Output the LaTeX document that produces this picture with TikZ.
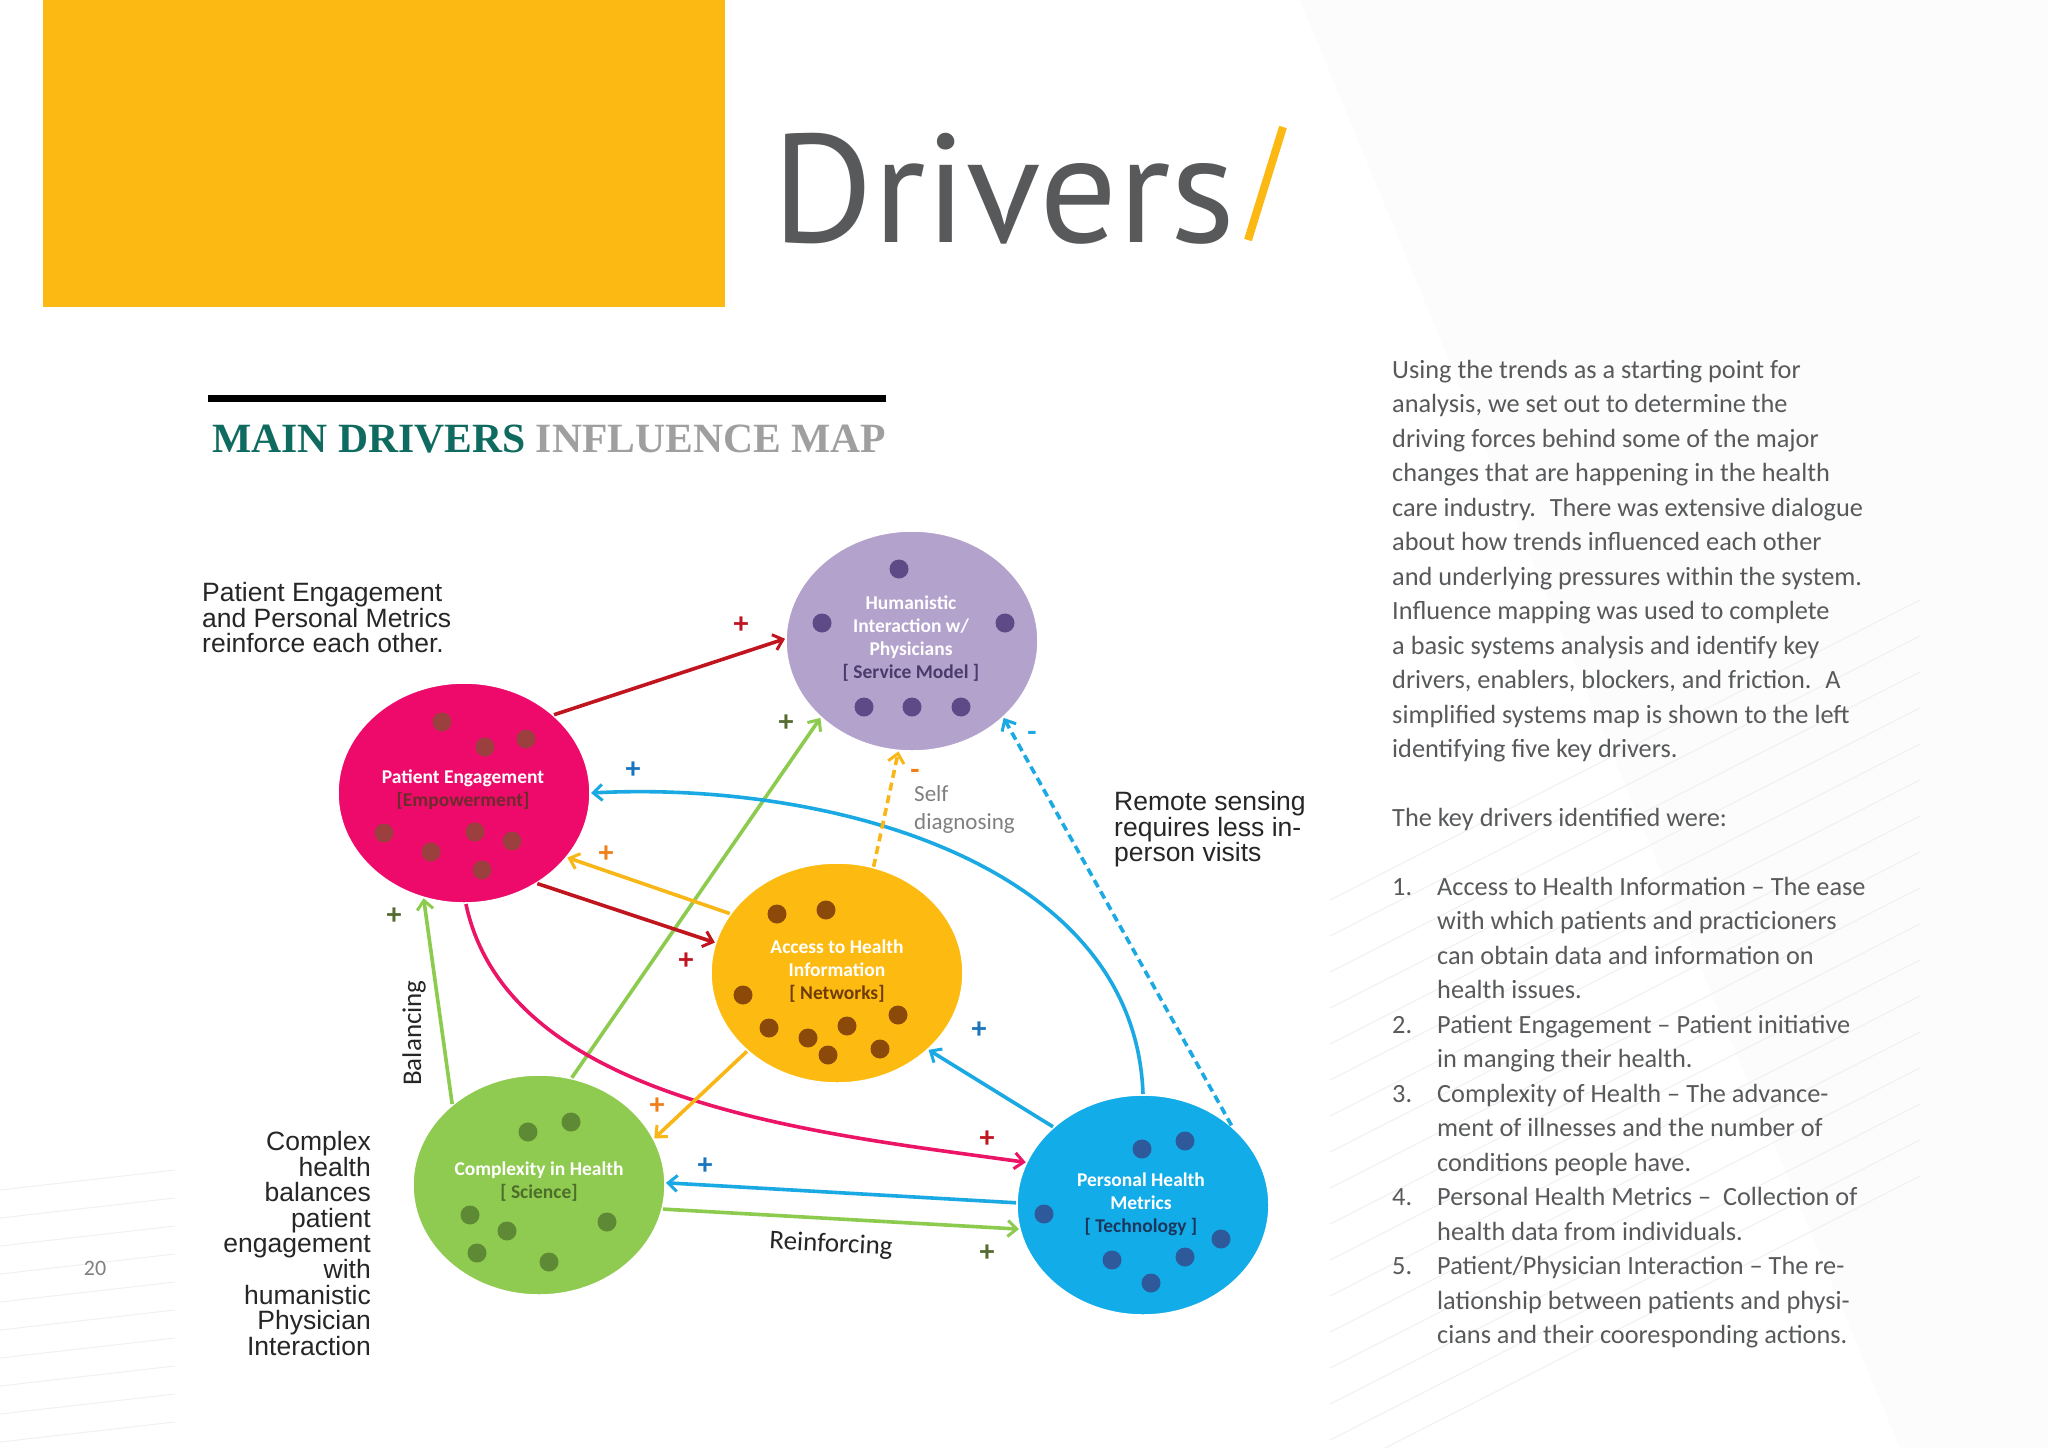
\documentclass[tikz,border=0pt]{standalone}
\usepackage{fontspec}
\setmainfont{Carlito}
\newfontfamily\arialf{Liberation Sans}
\newfontfamily\titlef{Liberation Serif}
\newfontfamily\bigf{PT Sans}
\usetikzlibrary{shapes.geometric,arrows.meta}
\definecolor{ygold}{HTML}{FDB913}
\definecolor{dgray}{HTML}{58595B}
\definecolor{teal1}{HTML}{0F6B5F}
\definecolor{cHI}{HTML}{B3A2CB}
\definecolor{cPE}{HTML}{EE0A6B}
\definecolor{cAC}{HTML}{FDBB12}
\definecolor{cCX}{HTML}{8FCB50}
\definecolor{cPH}{HTML}{12ADE8}
\definecolor{dHI}{HTML}{5E4A87}
\definecolor{dPE}{HTML}{9B3F3F}
\definecolor{dAC}{HTML}{8B4A0A}
\definecolor{dCX}{HTML}{5F8A35}
\definecolor{dPH}{HTML}{2E5A9C}
\definecolor{aRed}{HTML}{C0141E}
\definecolor{aGreen}{HTML}{8CCB4E}
\definecolor{aBlue}{HTML}{1AA9E3}
\definecolor{aYel}{HTML}{F8B716}
\definecolor{aPink}{HTML}{EC1466}
\definecolor{pOr}{HTML}{F07F1A}
\definecolor{pGr}{HTML}{556B2F}
\definecolor{pBl}{HTML}{1A75BC}
\begin{document}
\begin{tikzpicture}[x=1pt,y=-1pt,
  bub/.style={ellipse,minimum width=254pt,minimum height=222pt,draw=white,line width=3.5pt,outer sep=0pt,inner sep=0pt},
  dot/.style={circle,minimum size=19pt,inner sep=0pt},
  ctext/.style={font=\fontsize{19.5}{23}\selectfont\bfseries,text=white,align=center},
  arr/.style={line width=3.6pt,-{Straight Barb[length=9pt,width=16pt,line width=3pt]}},
  sgn/.style={font=\fontsize{30}{30}\selectfont\bfseries,inner sep=0pt},
  lab/.style={font=\arialf\fontsize{26.5}{25.6}\selectfont,text=black!85,inner sep=0pt},
  body/.style={font=\fontsize{26.3}{34.5}\selectfont,text=dgray,inner sep=0pt,anchor=base west}]
\useasboundingbox (0,0) rectangle (2048,1448);
\fill[white] (0,0) rectangle (2048,1448);
% faint background
\fill[gray!2] (1300,0) -- (2048,0) -- (2048,1448) -- (1900,1448) -- cycle;
\foreach \i in {0,...,16} {\draw[gray!12,line width=1pt] (1330,{900+\i*36}) -- (1920,{600+\i*36});}
\foreach \i in {0,...,9} {\draw[gray!12,line width=1pt] (0,{1190+\i*28}) -- (175,{1170+\i*28});}
% header
\fill[ygold] (43,0) rectangle (725,307);
\node[anchor=base west,inner sep=0pt,text=dgray,font=\bigf] (ttl) at (772,242) {\resizebox{463pt}{!}{Drivers}};
\draw[ygold,line width=8pt] (1248,240) -- (1283,127);
\draw[black,line width=7pt] (208,398) -- (886,398);
\node[anchor=base west,inner sep=0pt,font=\titlef\bfseries] (mt) at (212,452) {\resizebox{674pt}{!}{\textcolor{teal1}{MAIN DRIVERS} \textcolor{gray!75}{INFLUENCE MAP}}};
\node[anchor=base,text=gray,font=\fontsize{22}{22}\selectfont,inner sep=0pt] (pg) at (95,1275) {20};
% bubbles
\node[bub,fill=cHI] (HI) at (912,641) {};
\node[bub,fill=cPE] (PE) at (464,793) {};
\node[bub,fill=cAC] (AC) at (837,973) {};
\node[bub,fill=cCX] (CX) at (539,1185) {};
\node[bub,fill=cPH] (PH) at (1143,1205) {};
% dots
\foreach \p in {(899,569),(822,623),(1005,623),(864,707),(912,707),(961,707)} \node[dot,fill=dHI] at \p {};
\foreach \p in {(442,722),(485,747),(526,739),(384,833),(431,852),(475,832),(512,841),(482,870)} \node[dot,fill=dPE] at \p {};
\foreach \p in {(777,914),(826,910),(743,995),(769,1028),(808,1038),(847,1026),(898,1015),(828,1055),(880,1049)} \node[dot,fill=dAC] at \p {};
\foreach \p in {(528,1132),(571,1122),(470,1215),(507,1231),(607,1222),(477,1253),(549,1262)} \node[dot,fill=dCX] at \p {};
\foreach \p in {(1142,1149),(1185,1141),(1044,1214),(1221,1239),(1112,1260),(1185,1257),(1151,1283)} \node[dot,fill=dPH] at \p {};
% bubble texts
\node[ctext] (tHI) at (911,639) {Humanistic\\Interaction w/\\Physicians\\\textcolor{dHI!80!black}{[ Service Model ]}};
\node[ctext] (tPE) at (463,790) {Patient Engagement\\\textcolor{dPE!70!black}{[Empowerment]}};
\node[ctext] (tAC) at (837,971) {Access to Health\\Information\\\textcolor{dAC!80!black}{[ Networks]}};
\node[ctext] (tCX) at (539,1182) {Complexity in Health\\\textcolor{dCX!80!black}{[ Science]}};
\node[ctext] (tPH) at (1141,1204) {Personal Health\\Metrics\\\textcolor{dPH!60!black}{[ Technology ]}};
% connectors
\draw[arr,aRed] (PE.41.4) -- (HI.179.6);
\draw[arr,aGreen] (CX.73.4) -- (HI.220.9);
\draw[arr,aBlue] (PH.90.5) to[out=92,in=3,looseness=0.95] (PE.0.9);
\draw[arr,aYel] (AC.151.4) -- (PE.-32.5);
\draw[arr,aRed] (PE.-51.4) -- (AC.166);
\draw[arr,aYel,dash pattern=on 8pt off 5pt] (AC.71.3) -- (HI.-97.4);
\draw[arr,aBlue,dash pattern=on 8pt off 5pt] (PH.42.3) -- (HI.-40.3);
\draw[arr,aPink] (PE.-89.5) to[out=-78,in=172,looseness=0.85] (PH.160.5);
\draw[arr,aYel] (AC.221) -- (CX.22.6);
\draw[arr,aBlue] (PH.139.2) -- (AC.-40);
\draw[arr,aBlue] (PH.179) -- (CX.1.7);
\draw[arr,aGreen] (CX.-11.7) -- (PH.191.4);
\draw[arr,aGreen] (CX.137.6) -- (PE.249);
% signs
\node[sgn,text=aRed] (s1) at (741,625) {+};
\node[sgn,text=pGr] (s2) at (786,723) {+};
\node[sgn,text=pBl] (s3) at (633,770) {+};
\node[sgn,text=pOr] (s4) at (606,854) {+};
\node[sgn,text=aRed] (s5) at (686,961) {+};
\node[sgn,text=pOr] (s6) at (915,774) {-};
\node[sgn,text=aBlue] (s7) at (1032,736) {-};
\node[sgn,text=aRed] (s8) at (987,1139) {+};
\node[sgn,text=pOr] (s9) at (657,1106) {+};
\node[sgn,text=pBl] (s10) at (979,1030) {+};
\node[sgn,text=pBl] (s11) at (705,1166) {+};
\node[sgn,text=pGr] (s12) at (987,1253) {+};
\node[sgn,text=pGr] (s13) at (394,916) {+};
% labels
\node[anchor=north west,inner sep=0pt,align=left,text=gray,font=\fontsize{23}{28}\selectfont] (sd) at (914,785) {Self\\diagnosing};
\node[font=\fontsize{27}{27}\selectfont,text=black!85,rotate=-3] (rf) at (831,1245) {Reinforcing};
\node[font=\fontsize{27}{27}\selectfont,text=black!85,rotate=90] (bl) at (414,1033) {Balancing};
\node[lab,anchor=north west,align=left] (l1) at (202,582) {Patient Engagement\\and Personal Metrics\\reinforce each other.};
\node[lab,anchor=north west,align=left] (l2) at (1114,791) {Remote sensing\\requires less in-\\person visits};
\node[lab,anchor=north east,align=right] (l3) at (371,1131) {Complex\\health\\balances\\patient\\engagement\\with\\humanistic\\Physician\\Interaction};
% body text
\foreach \t [count=\k from 0] in {Using the trends as a starting point for,{analysis, we set out to determine the},driving forces behind some of the major,changes that are happening in the health,care industry.~ There was extensive dialogue,about how trends influenced each other,and underlying pressures within the system.,Influence mapping was used to complete,a basic systems analysis and identify key,{drivers, enablers, blockers, and friction.~ A},simplified systems map is shown to the left,identifying five key drivers.}
  \node[body] at (1392,{378+\k*34.5}) {\t};
\node[body] (kd) at (1392,826) {The key drivers identified were:};
\foreach \n/\y in {1./895,2./1033,3./1102,4./1205,5./1274}
  \node[body] at (1392,\y) {\n};
\foreach \t [count=\k from 0] in {Access to Health Information -- The ease,with which patients and practicioners,can obtain data and information on,health issues.,Patient Engagement -- Patient initiative,in manging their health.,Complexity of Health -- The advance-,ment of illnesses and the number of,conditions people have.,Personal Health Metrics --~ Collection of,health data from individuals.,Patient/Physician Interaction -- The re-,lationship between patients and physi-,cians and their cooresponding actions.}
  \node[body] at (1437,{895+\k*34.5}) {\t};
\end{tikzpicture}
\end{document}
